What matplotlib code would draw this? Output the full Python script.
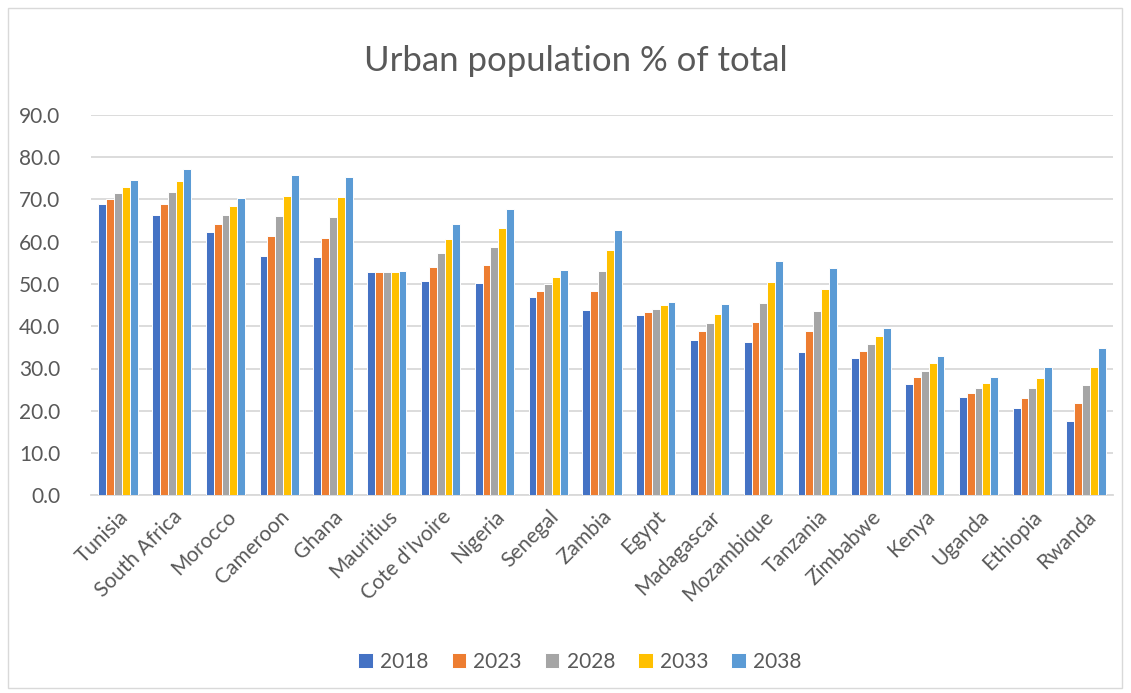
import matplotlib
matplotlib.use("Agg")
import matplotlib.pyplot as plt
import numpy as np
from matplotlib.patches import Rectangle

countries = ["Tunisia", "South Africa", "Morocco", "Cameroon", "Ghana", "Mauritius",
             "Cote d'Ivoire", "Nigeria", "Senegal", "Zambia", "Egypt", "Madagascar",
             "Mozambique", "Tanzania", "Zimbabwe", "Kenya", "Uganda", "Ethiopia", "Rwanda"]
years = ["2018", "2023", "2028", "2033", "2038"]
v2018 = [68.8, 66.4, 62.3, 56.6, 56.3, 52.7, 50.8, 50.2, 46.9, 43.8, 42.6, 36.7, 36.3, 33.9, 32.5, 26.4, 23.3, 20.6, 17.7]
v2023 = [70.0, 69.0, 64.2, 61.3, 60.9, 52.7, 54.0, 54.5, 48.4, 48.4, 43.4, 38.8, 40.9, 38.8, 34.1, 28.0, 24.3, 23.0, 21.8]
v2028 = [71.4, 71.7, 66.2, 66.0, 65.7, 52.7, 57.3, 58.8, 50.0, 53.1, 44.1, 40.8, 45.6, 43.7, 35.9, 29.5, 25.4, 25.3, 26.1]
v2033 = [72.9, 74.3, 68.3, 70.8, 70.5, 52.8, 60.7, 63.1, 51.6, 57.9, 44.9, 42.9, 50.4, 48.8, 37.7, 31.2, 26.6, 27.8, 30.4]
v2038 = [74.5, 77.1, 70.4, 75.7, 75.3, 53.0, 64.2, 67.6, 53.4, 62.7, 45.7, 45.2, 55.3, 53.8, 39.6, 33.0, 27.9, 30.4, 34.8]
series = [v2018, v2023, v2028, v2033, v2038]
colors = ["#4472C4", "#ED7D31", "#A5A5A5", "#FFC000", "#5B9BD5"]
yticks = [0, 10, 20, 30, 40, 50, 60, 70, 80, 90]

plt.rcParams['font.family'] = ['Lato', 'DejaVu Sans']
W, H = 1131, 693
fig = plt.figure(figsize=(W / 100, H / 100), dpi=100)
ax = fig.add_axes([91 / W, 1 - 495.4 / H, (1113 - 91) / W, (495.4 - 114.7) / H])

x = np.arange(len(countries))
bw = 0.146
for i, (vals, c, yr) in enumerate(zip(series, colors, years)):
    ax.bar(x + (i - 2) * bw, vals, width=bw, color=c, edgecolor="white",
           linewidth=0.7, label=yr, zorder=3)

ax.set_xlim(-0.5, len(countries) - 0.5)
ax.set_ylim(0, 90)
ax.set_yticks(yticks)
ax.set_yticklabels([f"{t:.1f}" for t in yticks], fontsize=15, color="#595959")
ax.set_xticks(x)
ax.set_xticklabels(countries, rotation=45, ha="right", rotation_mode="anchor",
                   fontsize=15, color="#595959")
ax.tick_params(axis="both", length=0)
ax.tick_params(axis="y", pad=22)
ax.tick_params(axis="x", pad=8)
ax.grid(axis="y", color="#D9D9D9", linewidth=1.3, zorder=0)
for s in ["left", "right", "top"]:
    ax.spines[s].set_visible(False)
ax.spines["bottom"].set_color("#D9D9D9")
ax.spines["bottom"].set_linewidth(1.3)

fig.text(576 / W, 1 - 61 / H, "Urban population % of total", ha="center", va="center",
         fontsize=25, color="#595959")

leg = fig.legend(loc="center", bbox_to_anchor=(580 / W, 1 - 662 / H), ncol=5,
                 frameon=False, fontsize=15, handlelength=0.7, handleheight=0.7,
                 columnspacing=1.1, handletextpad=0.35)
for t in leg.get_texts():
    t.set_color("#595959")

fig.patches.append(Rectangle((8 / W, 1 - 688 / H), (1122 - 8) / W, (688 - 8) / H,
                             transform=fig.transFigure, fill=False,
                             edgecolor="#D9D9D9", linewidth=1))

fig.savefig("out.png", dpi=100)
